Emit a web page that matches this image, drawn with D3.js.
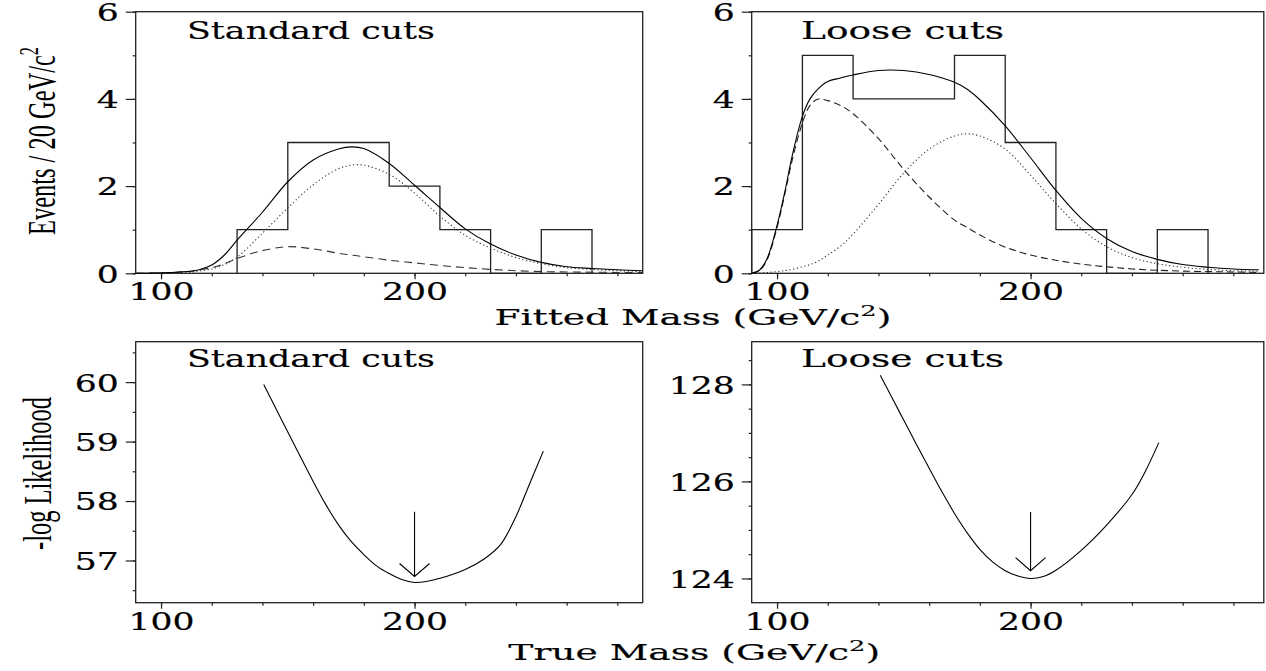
<!DOCTYPE html>
<html>
<head>
<meta charset="utf-8">
<script src="https://cdn.jsdelivr.net/npm/d3@7"></script>
<style>
  body { margin: 0; background: #fff; }
  svg { display: block; }
</style>
</head>
<body>
<div id="chart"></div>
<script>
// ---- data ----
// fitted mass grid (GeV/c^2) for the fit curves of the top panels
const fitMass = [90, 93, 96, 100, 103, 106, 110, 113, 116, 120, 125, 130, 140, 150, 160, 170, 175, 180, 190, 200, 210, 220, 230, 240, 250, 260, 270, 280, 290];

// standard cuts: total fit, signal (dotted), background (dashed)
const stdTotal  = [0, 0, 0.004, 0.01, 0.016, 0.025, 0.04, 0.06, 0.1, 0.19, 0.42, 0.76, 1.4, 2.1, 2.6, 2.85, 2.9, 2.86, 2.52, 2.02, 1.51, 1.02, 0.67, 0.42, 0.25, 0.15, 0.11, 0.08, 0.06];
const stdSignal = [0, 0, 0, 0.003, 0.006, 0.01, 0.02, 0.035, 0.06, 0.1, 0.2, 0.37, 0.92, 1.5, 2.03, 2.4, 2.48, 2.48, 2.27, 1.84, 1.31, 0.87, 0.58, 0.36, 0.22, 0.13, 0.09, 0.06, 0.04];
const stdBkg    = [0, 0, 0.003, 0.007, 0.015, 0.025, 0.04, 0.06, 0.09, 0.13, 0.22, 0.34, 0.52, 0.61, 0.56, 0.46, 0.42, 0.38, 0.3, 0.24, 0.18, 0.13, 0.09, 0.06, 0.04, 0.03, 0.025, 0.02, 0.015];

// loose cuts
const looseTotal  = [0, 0.07, 0.33, 1.1, 1.85, 2.7, 3.6, 4.0, 4.22, 4.4, 4.48, 4.55, 4.65, 4.65, 4.56, 4.38, 4.22, 3.98, 3.38, 2.65, 1.9, 1.26, 0.8, 0.5, 0.32, 0.2, 0.14, 0.1, 0.08];
const looseSignal = [0, 0.005, 0.015, 0.04, 0.06, 0.09, 0.15, 0.2, 0.27, 0.42, 0.62, 0.9, 1.58, 2.3, 2.85, 3.15, 3.2, 3.15, 2.85, 2.25, 1.6, 1.02, 0.61, 0.36, 0.22, 0.14, 0.09, 0.06, 0.05];
const looseBkg    = [0, 0.06, 0.3, 1.05, 1.8, 2.6, 3.45, 3.85, 3.99, 3.96, 3.85, 3.66, 3.09, 2.38, 1.75, 1.22, 1.05, 0.88, 0.6, 0.42, 0.3, 0.21, 0.15, 0.1, 0.07, 0.05, 0.04, 0.03, 0.02];

// histograms (20 GeV bins)
const stdEdges   = [130, 150, 170, 190, 210, 230, 250, 270];
const stdCounts  = [1, 3, 3, 2, 1, 0, 1];
const looseEdges  = [90, 110, 130, 150, 170, 190, 210, 230, 250, 270];
const looseCounts = [1, 5, 4, 4, 5, 3, 1, 0, 1];

// likelihood scans
const stdScanMass = [140.5, 145, 150, 155, 160, 165, 170, 175, 180, 185, 190, 195, 200, 205, 210, 220, 227.6, 234, 240, 245, 250.8];
const stdNll      = [59.96, 59.58, 59.16, 58.745, 58.33, 57.94, 57.6, 57.32, 57.1, 56.91, 56.78, 56.68, 56.63, 56.65, 56.7, 56.85, 57.03, 57.27, 57.74, 58.25, 58.84];
const looseScanMass = [140.7, 145, 150, 155, 160, 165, 170, 175, 180, 185, 190, 195, 200, 205, 210, 220, 230, 240, 245, 250.6];
const looseNll      = [128.19, 127.76, 127.26, 126.76, 126.27, 125.79, 125.34, 124.94, 124.6, 124.34, 124.16, 124.05, 124.0, 124.04, 124.17, 124.58, 125.1, 125.73, 126.18, 126.8];

// arrows marking the true mass
const arrowMass = 200;
const stdArrow = [57.82, 56.73];
const looseArrow = [125.37, 124.16];

// ticks
const massMajor = [100, 200];
const massMinor = [100, 120, 140, 160, 180, 200, 220, 240, 260, 280];
const eventsMajor = [0, 2, 4, 6];
const eventsMinor = [0, 1, 2, 3, 4, 5, 6];
const stdNllMajor = [57, 58, 59, 60];
const stdNllMinor = [56.5, 57, 57.5, 58, 58.5, 59, 59.5, 60, 60.5];
const looseNllMajor = [124, 126, 128];
const looseNllMinor = [124, 124.5, 125, 125.5, 126, 126.5, 127, 127.5, 128, 128.5];

// ---- layout ----
const W = 1266, H = 671;
const serif = "'DejaVu Serif', 'Liberation Serif', serif";
const times = "'Liberation Serif', 'Times New Roman', serif";

const svg = d3.select("#chart").append("svg")
  .attr("width", W)
  .attr("height", H);

const panels = [
  { xd: [90, 290], xr: [135.7, 642.7], yd: [0, 6], yr: [273.3, 11.7], yMaj: eventsMajor, yMin: eventsMinor,
    title: "Standard cuts", tx: 187, tw: 248, ty: 38.5 },
  { xd: [90, 292], xr: [751.7, 1263.8], yd: [0, 6], yr: [273.3, 11.7], yMaj: eventsMajor, yMin: eventsMinor,
    title: "Loose cuts", tx: 801, tw: 203, ty: 38.5 },
  { xd: [90, 290], xr: [135.7, 642.7], yd: [56.29, 60.68], yr: [602.7, 341.7], yMaj: stdNllMajor, yMin: stdNllMinor,
    title: "Standard cuts", tx: 187, tw: 248, ty: 367 },
  { xd: [90, 292], xr: [751.7, 1263.8], yd: [123.5, 128.88], yr: [602.7, 341.7], yMaj: looseNllMajor, yMin: looseNllMinor,
    title: "Loose cuts", tx: 801, tw: 203, ty: 367 }
];

function stretch(sel, w) {
  sel.attr("textLength", w).attr("lengthAdjust", "spacingAndGlyphs");
}

function drawPanel(p) {
  const x = d3.scaleLinear().domain(p.xd).range(p.xr);
  const y = d3.scaleLinear().domain(p.yd).range(p.yr);
  const g = svg.append("g");

  // minor ticks
  g.append("g")
    .attr("transform", "translate(0," + p.yr[0] + ")")
    .call(d3.axisBottom(x).tickValues(massMinor).tickSize(3).tickFormat(""));
  g.append("g")
    .attr("transform", "translate(" + p.xr[0] + ",0)")
    .call(d3.axisLeft(y).tickValues(p.yMin).tickSize(3).tickFormat(""));

  // major ticks with labels
  const xa = g.append("g")
    .attr("transform", "translate(0," + p.yr[0] + ")")
    .call(d3.axisBottom(x).tickValues(massMajor).tickSize(6).tickFormat(d3.format("d")));
  xa.selectAll("text")
    .attr("y", 27).attr("dy", null)
    .style("font-family", serif).style("font-size", "24px").attr("fill", "#000")
    .attr("stroke", "#000").attr("stroke-width", 0.2)
    .each(function() { stretch(d3.select(this), 22 * this.textContent.length); });

  const ya = g.append("g")
    .attr("transform", "translate(" + p.xr[0] + ",0)")
    .call(d3.axisLeft(y).tickValues(p.yMaj).tickSize(10).tickFormat(d3.format("d")));
  ya.selectAll("text")
    .attr("x", -17).attr("dy", "0.37em")
    .style("font-family", serif).style("font-size", "24px").attr("fill", "#000")
    .attr("stroke", "#000").attr("stroke-width", 0.2)
    .each(function() { stretch(d3.select(this), 22 * this.textContent.length); });

  g.selectAll(".domain").remove();
  g.selectAll(".tick line").attr("stroke", "#222").attr("stroke-width", 1.2);

  // frame
  g.append("rect")
    .attr("x", p.xr[0]).attr("y", p.yr[1])
    .attr("width", p.xr[1] - p.xr[0]).attr("height", p.yr[0] - p.yr[1])
    .attr("fill", "none").attr("stroke", "#222").attr("stroke-width", 1.3);

  // title
  const t = g.append("text")
    .attr("x", p.tx).attr("y", p.ty)
    .style("font-family", serif).style("font-size", "25px")
    .attr("stroke", "#000").attr("stroke-width", 0.15)
    .text(p.title);
  stretch(t, p.tw);

  return { g, x, y };
}

const P = panels.map(drawPanel);

function curve(panel, xs, ys, dash, col) {
  const line = d3.line()
    .x(d => panel.x(d[0]))
    .y(d => panel.y(d[1]))
    .curve(d3.curveCatmullRom.alpha(0.5));
  panel.g.append("path")
    .datum(xs.map((v, i) => [v, ys[i]]))
    .attr("d", line)
    .attr("fill", "none")
    .attr("stroke", col || "#000")
    .attr("stroke-width", 1.1)
    .attr("stroke-dasharray", dash);
}

function histo(panel, edges, counts) {
  const pts = [[edges[0], 0]].concat(counts.map((c, i) => [edges[i], c]), [[edges[edges.length - 1], 0]]);
  const line = d3.line()
    .x(d => panel.x(d[0]))
    .y(d => panel.y(d[1]))
    .curve(d3.curveStepAfter);
  panel.g.append("path")
    .datum(pts)
    .attr("d", line)
    .attr("fill", "none")
    .attr("stroke", "#222")
    .attr("stroke-width", 1.3);
}

function arrow(panel, m, ends) {
  const xa = panel.x(m), y0 = panel.y(ends[0]), y1 = panel.y(ends[1]);
  panel.g.append("path")
    .attr("d", `M${xa},${y0}L${xa},${y1}M${xa - 15},${y1 - 13}L${xa},${y1}L${xa + 15},${y1 - 13}`)
    .attr("fill", "none").attr("stroke", "#000").attr("stroke-width", 1.1);
}

// top left
histo(P[0], stdEdges, stdCounts);
curve(P[0], fitMass, stdBkg, "8,5", "#333");
curve(P[0], fitMass, stdSignal, "1.2,2.6", "#333");
curve(P[0], fitMass, stdTotal, null);

// top right
histo(P[1], looseEdges, looseCounts);
curve(P[1], fitMass, looseBkg, "7,4", "#222");
curve(P[1], fitMass, looseSignal, "1.2,2.6", "#333");
curve(P[1], fitMass, looseTotal, null);

// bottom
curve(P[2], stdScanMass, stdNll, null);
arrow(P[2], arrowMass, stdArrow);
curve(P[3], looseScanMass, looseNll, null);
arrow(P[3], arrowMass, looseArrow);

// ---- axis titles ----
function hTitle(x0, yb, w, main) {
  const t = svg.append("text")
    .attr("x", 0).attr("y", 0)
    .style("font-family", serif).style("font-size", "22px")
    .attr("stroke", "#000").attr("stroke-width", 0.15);
  t.append("tspan").text(main + " (GeV/c");
  t.append("tspan").attr("dy", -9).style("font-size", "15px").text("2");
  t.append("tspan").attr("dy", 9).text(")");
  const len = t.node().getBBox().width;
  t.attr("transform", `translate(${x0},${yb}) scale(${w / len},1)`);
}
hTitle(494.5, 325, 397, "Fitted Mass");
hTitle(508.3, 660, 372, "True Mass");

function vTitle(xb, yStart, len, cap, build) {
  const t = svg.append("text")
    .style("font-family", times).style("font-size", "24px");
  build(t);
  const nat = t.node().getComputedTextLength();
  t.attr("transform", `translate(${xb},${yStart}) scale(${cap / (0.662 * 24)},${len / nat}) rotate(-90)`);
}
vTitle(54.5, 235, 188, 26.5, t => {
  t.append("tspan").text("Events / 20 GeV/c");
  t.append("tspan").attr("dy", -10).style("font-size", "16px").text("2");
});
vTitle(50.5, 550, 153, 26.5, t => {
  t.append("tspan").text("-log Likelihood");
});
</script>
</body>
</html>
